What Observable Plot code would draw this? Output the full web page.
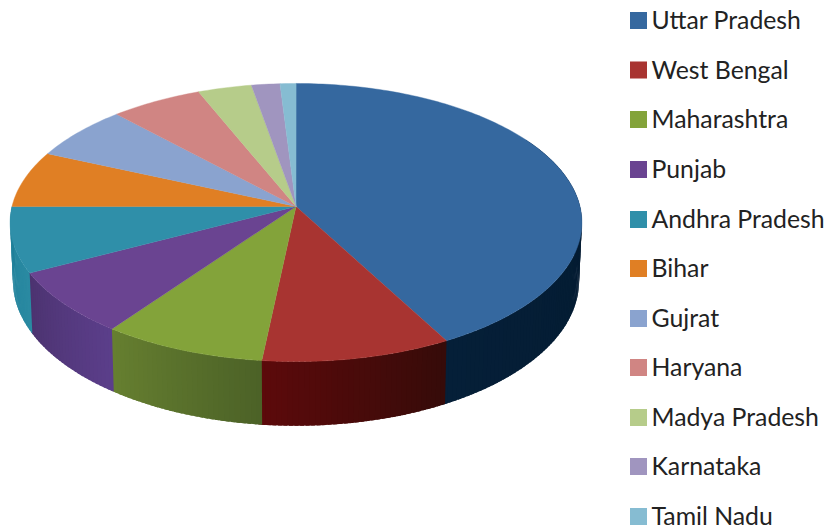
<!DOCTYPE html>
<html>
<head>
<meta charset="utf-8">
<script src="https://cdn.jsdelivr.net/npm/d3@7"></script>
<script src="https://cdn.jsdelivr.net/npm/@observablehq/plot@0.6"></script>
<style>html,body{margin:0;padding:0;background:#fff}svg{display:block}</style>
</head>
<body>
<div id="chart"></div>
<script>
const states = ["Uttar Pradesh","West Bengal","Maharashtra","Punjab","Andhra Pradesh","Bihar","Gujrat","Haryana","Madya Pradesh","Karnataka","Tamil Nadu"];
const shares = [42.1,9.6,8.3,7.4,7.6,6.6,6.4,5.8,3.4,1.8,1.0];
const topColors = ["#35689f","#a83431","#83a33a","#6a4491","#2f8fa9","#e07f24","#8aa3cf","#d08583","#b6cc8a","#a095bf","#86bcd2"];
const sideStart = ["#021627","#360b09","#4c6227","#5b3e8a","#2a8aa2","#b86a1c","#6f86ab","#a86b6a","#95a871","#837a9d","#6e9aad"];
const sideEnd   = ["#051f38","#5c0a0b","#667f30","#4c3370","#1f7f99","#b86a1c","#6f86ab","#a86b6a","#95a871","#837a9d","#6e9aad"];

// view of the pie: ellipse of the top face and of the bottom rim, in SVG units
const view = {cx:295.5, cy:206, rx:284, ry:137.2, k:0.1152, depth:58, rimX:0.99, rimY:1.04};
const rad = d => d * Math.PI / 180;
function topPoint(a){
  const u = Math.sin(rad(a)), v = Math.cos(rad(a)), s = 1/(1+view.k*v);
  return [view.cx+view.rx*u*s, view.cy-view.ry*v*s];
}
function rimPoint(a){
  const u = Math.sin(rad(a)), v = Math.cos(rad(a)), s = 1/(1+view.k*v);
  return [view.cx+view.rx*view.rimX*u*s, view.cy+view.depth-view.ry*view.rimY*v*s];
}

const total = d3.sum(shares);
const tops = [], sides = [];
let start = 0;
states.forEach((name,i)=>{
  const end = start + shares[i]/total*360;
  const arc = d3.range(start,end,1).concat([end]);
  tops.push({id:name,x:view.cx,y:view.cy,color:topColors[i]});
  arc.forEach(a=>{const [x,y]=topPoint(a);tops.push({id:name,x,y,color:topColors[i]});});
  const mix = d3.interpolateRgb(sideStart[i],sideEnd[i]);
  for(let j=0;j<arc.length-1;j++){
    const a=arc[j],b=arc[j+1];
    if(b<60||a>=270) continue;
    const c=mix(arc.length>2?j/(arc.length-2):0);
    const id=name+"-"+j;
    const b2=Math.min(b+0.7,270);
    [topPoint(a),topPoint(b2),rimPoint(b2),rimPoint(a)].forEach(([x,y])=>sides.push({id,x,y,color:c}));
  }
  start=end;
});

const legendY = [20,69.5,119,169,219,268,318,367,417,466,516];
const legend = states.map((name,i)=>({name,y:legendY[i],color:topColors[i]}));

const plot = Plot.plot({
  width:825,height:531,margin:0,
  x:{domain:[0,825],range:[0,825],axis:null},
  y:{domain:[0,531],range:[0,531],axis:null},
  color:{type:"identity"},
  style:{background:"#fff",overflow:"visible"},
  marks:[
    Plot.line(sides,{x:"x",y:"y",z:"id",fill:"color",stroke:"none",curve:"linear-closed"}),
    Plot.line(tops,{x:"x",y:"y",z:"id",fill:"color",stroke:"color",strokeWidth:0.4,curve:"linear-closed"}),
    Plot.dot(legend,{x:638,y:"y",r:9.6,symbol:"square",fill:"color",stroke:"none"}),
    Plot.text(legend,{x:651,y:"y",dy:1,text:"name",textAnchor:"start",fontFamily:"Lato",fontSize:24.8,fill:"#222"})
  ]
});
document.getElementById("chart").appendChild(plot);
</script>
</body>
</html>
